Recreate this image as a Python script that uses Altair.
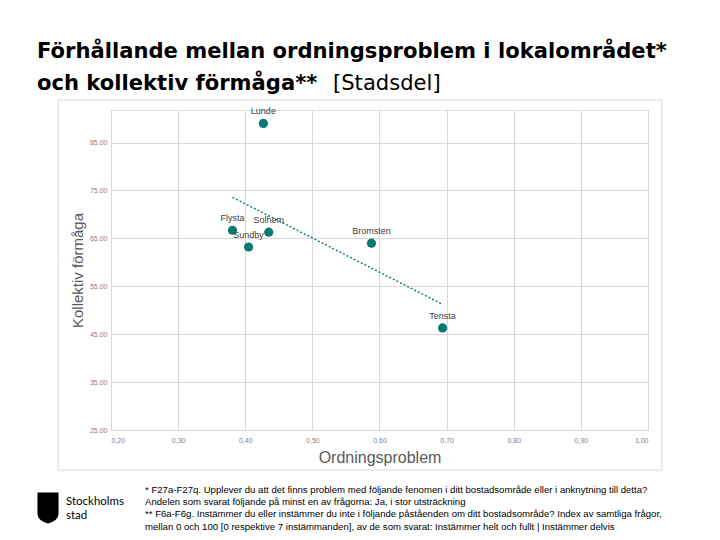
import altair as alt
import pandas as pd

# ---- data ----
areas = ["Lunde", "Flysta", "Sundby", "Solhem", "Bromsten", "Tensta"]
ordningsproblem = [0.427, 0.381, 0.405, 0.435, 0.588, 0.694]
kollektiv_formaga = [89.0, 66.7, 63.2, 66.3, 64.0, 46.3]

x_ticks = [0.2, 0.3, 0.4, 0.5, 0.6, 0.7, 0.8, 0.9, 1.0]
y_ticks = [25, 35, 45, 55, 65, 75, 85]

title_line1 = "Förhållande mellan ordningsproblem i lokalområdet*"
title_line2_bold = "och kollektiv förmåga**"
title_line2_regular = "[Stadsdel]"
x_title = "Ordningsproblem"
y_title = "Kollektiv förmåga"
logo_lines = ["Stockholms", "stad"]
footnotes = [
    "* F27a-F27q. Upplever du att det finns problem med följande fenomen i ditt bostadsområde eller i anknytning till detta?",
    "Andelen som svarat följande på minst en av frågorna: Ja, i stor utsträckning",
    "** F6a-F6g. Instämmer du eller instämmer du inte i följande påståenden om ditt bostadsområde? Index av samtliga frågor,",
    "mellan 0 och 100 [0 respektive 7 instämmanden], av de som svarat: Instämmer helt och fullt | Instämmer delvis",
]

df = pd.DataFrame({"area": areas, "x": ordningsproblem, "y": kollektiv_formaga})

TEAL = "#0b7874"
GRID = "#d9d9d9"
W, H = 537, 320

xscale = alt.Scale(domain=[0.2, 1.0], nice=False, zero=False)
yscale = alt.Scale(domain=[25, 91.8], nice=False, zero=False)

xenc = alt.X(
    "x:Q", scale=xscale, title=x_title,
    axis=alt.Axis(values=x_ticks, labelExpr="replace(format(datum.value, '.2f'), '.', ',')",
                  grid=True, gridColor=GRID, domain=False, ticks=False,
                  labelFontSize=7, labelColor="#808080", labelPadding=6,
                  titleFontSize=16, titleFont="Liberation Sans", titleFontWeight="normal",
                  titleColor="#595959", titlePadding=6),
)
yenc = alt.Y(
    "y:Q", scale=yscale, title=y_title,
    axis=alt.Axis(values=y_ticks, labelExpr="replace(format(datum.value, '.2f'), '.', ',')",
                  grid=True, gridColor=GRID, domain=False, ticks=False,
                  labelFontSize=7, labelColor="#808080", labelPadding=4,
                  titleFontSize=15, titleFont="Liberation Sans", titleFontWeight="normal",
                  titleColor="#595959", titlePadding=4),
)

base = alt.Chart(df)

points = base.mark_circle(size=85, color=TEAL, opacity=1).encode(x=xenc, y=yenc)
labels = base.mark_text(dy=-12, fontSize=9, color="#404040", font="Liberation Sans").encode(
    x="x:Q", y="y:Q", text="area:N")
trend = base.transform_regression("x", "y").mark_line(
    color=TEAL, strokeDash=[2, 2], strokeWidth=1.4).encode(x="x:Q", y="y:Q")

one = pd.DataFrame({"a": [0]})

# decorative frame around the chart area
frame = alt.Chart(one).mark_rect(
    fill=None, stroke="#d9d9d9", strokeWidth=1).encode(
    x=alt.value(-53), x2=alt.value(551), y=alt.value(-10), y2=alt.value(360))


def text_at(s, x, y, **kw):
    return alt.Chart(pd.DataFrame({"t": [s]})).mark_text(align="left", **kw).encode(
        x=alt.value(x), y=alt.value(y), text="t:N")


TF = dict(baseline="alphabetic", fontSize=21.1, font="DejaVu Sans", color="#000000")
t1 = text_at(title_line1, -74, -52, fontWeight="bold", **TF)
t2 = text_at(title_line2_bold, -74, -20, fontWeight="bold", **TF)
t3 = text_at(title_line2_regular, 222, -20, fontWeight="normal", **TF)

shield = alt.Chart(one).mark_point(
    shape="M-0.68,-1 L0.68,-1 L0.68,0.35 Q0.68,0.8 0,1 Q-0.68,0.8 -0.68,0.35 Z",
    size=961, filled=True, color="#000000", opacity=1).encode(
    x=alt.value(-63), y=alt.value(398))

LF = dict(baseline="middle", fontSize=11.5, font="Lato", color="#000000")
logo1 = text_at(logo_lines[0], -45, 392, **LF)
logo2 = text_at(logo_lines[1], -45, 406, **LF)

FF = dict(baseline="middle", fontSize=9.6, font="Liberation Sans", color="#000000")
fn_layers = [text_at(s, 34, 380 + i * 12.2, **FF) for i, s in enumerate(footnotes)]

chart = alt.layer(frame, trend, points, labels, t1, t2, t3, shield, logo1, logo2, *fn_layers).properties(
    width=W, height=H,
    autosize=alt.AutoSizeParams(type="none"),
    padding={"left": 103, "top": 102, "right": 60, "bottom": 102},
).configure_view(stroke=None).configure(background="white")

chart.save("out.html", embed_options={"renderer": "svg", "actions": False})
